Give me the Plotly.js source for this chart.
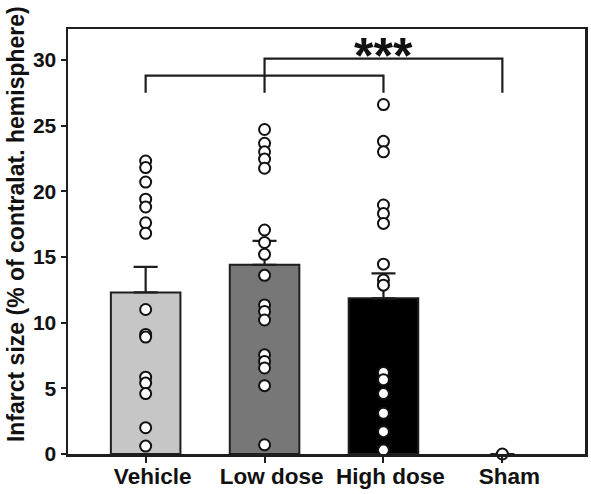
<!DOCTYPE html>
<html>
<head>
<meta charset="utf-8">
<script src="https://cdn.plot.ly/plotly-3.0.1.min.js"></script>
<style>html,body{margin:0;padding:0;background:#fff;}#chart{width:591px;height:494px;}</style>
</head>
<body>
<div id="chart"></div>
<script>
// ---- data ----
const categories = ["Vehicle", "Low dose", "High dose", "Sham"];
const meanValues = [12.3, 14.4, 11.85, 0];
const semValues = [1.95, 1.83, 1.9, 0];
const barColors = ["#c6c6c6", "#777777", "#000000", "#ffffff"];

const vehiclePoints = [22.3, 21.8, 20.7, 19.4, 18.8, 17.6, 16.8, 11.0, 9.1, 8.9, 5.85, 5.4, 4.6, 2.0, 0.6];
const lowDosePoints = [24.7, 23.65, 23.0, 22.45, 21.75, 17.05, 16.1, 15.2, 13.6, 11.35, 10.85, 10.2, 7.55, 7.05, 6.55, 5.2, 0.7];
const highDosePoints = [26.6, 23.8, 23.0, 18.95, 18.3, 17.55, 14.45, 13.25, 12.85, 6.2, 5.65, 4.6, 3.1, 1.7, 0.3];
const shamPoints = [0];

const yTicks = [0, 5, 10, 15, 20, 25, 30];
const yTitle = "Infarct size (% of contralat. hemisphere)";
const sigLabel = "***";
// bracket levels (data units): lower bracket Vehicle–High dose, upper bracket Low dose–Sham
const lowerBracket = {from: 0, to: 2, level: 28.8, drop: 27.5};
const upperBracket = {from: 1, to: 3, level: 30.1, drop: 27.5};

// ---- build ----
const ptsX = [], ptsY = [];
[vehiclePoints, lowDosePoints, highDosePoints, shamPoints].forEach((arr, i) => {
  arr.forEach(v => { ptsX.push(categories[i]); ptsY.push(v); });
});

const lineCol = "#1e1e1e";
const barTrace = {
  type: "bar",
  x: categories,
  y: meanValues,
  width: 0.585,
  marker: {color: barColors, line: {color: lineCol, width: meanValues.map(v => v > 0 ? 2 : 0)}},
  error_y: {type: "data", symmetric: false, array: semValues, arrayminus: semValues.map(() => 0),
            color: lineCol, thickness: 2.2, width: 12},
  hoverinfo: "none",
  showlegend: false
};
const ptsTrace = {
  type: "scatter",
  mode: "markers",
  x: ptsX,
  y: ptsY,
  marker: {symbol: "circle", size: 11, color: "#ffffff", line: {color: "#111111", width: 2}},
  cliponaxis: false,
  showlegend: false,
  hoverinfo: "none"
};

function bracket(b) {
  return {type: "path", xref: "x", yref: "y",
    path: `M ${b.from} ${b.drop} L ${b.from} ${b.level} L ${b.to} ${b.level} L ${b.to} ${b.drop}`,
    line: {color: lineCol, width: 2.2}};
}

const font = "Liberation Sans, Arial, sans-serif";
const layout = {
  width: 591, height: 494,
  margin: {l: 68, r: 6, t: 29, b: 40},
  paper_bgcolor: "#ffffff", plot_bgcolor: "#ffffff",
  font: {family: font, color: "#111111"},
  showlegend: false,
  xaxis: {
    type: "category", range: [-0.653, 3.695],
    showline: true, mirror: true, linecolor: lineCol, linewidth: 2.5,
    ticks: "outside", ticklen: 6, tickwidth: 2, tickcolor: lineCol,
    ticklabelshift: 7, ticklabelstandoff: -6,
    tickfont: {size: 22.5, family: font, weight: "bold", color: "#111"},
    showgrid: false, zeroline: false, fixedrange: true
  },
  yaxis: {
    range: [0, 32.35], tickvals: yTicks, ticktext: yTicks.map(String),
    showline: true, mirror: true, linecolor: lineCol, linewidth: 2.5,
    ticks: "outside", ticklen: 5, tickwidth: 2, tickcolor: lineCol,
    tickfont: {size: 21, family: font, weight: "bold", color: "#111"},
    showgrid: false, zeroline: false, fixedrange: true
  },
  shapes: [bracket(lowerBracket), bracket(upperBracket)],
  annotations: [{
    xref: "x", yref: "y", x: 2, y: upperBracket.level, yanchor: "bottom", yshift: -27,
    text: sigLabel, showarrow: false,
    font: {size: 50, family: font, weight: "bold", color: "#111"}
  }, {
    xref: "paper", yref: "paper", x: 0, y: 0.541, xshift: -52, xanchor: "center", yanchor: "middle",
    textangle: -90, text: yTitle, showarrow: false,
    font: {size: 23, family: font, weight: "bold", color: "#111"}
  }]
};

Plotly.newPlot("chart", [barTrace, ptsTrace], layout, {displayModeBar: false, staticPlot: true});
</script>
</body>
</html>
